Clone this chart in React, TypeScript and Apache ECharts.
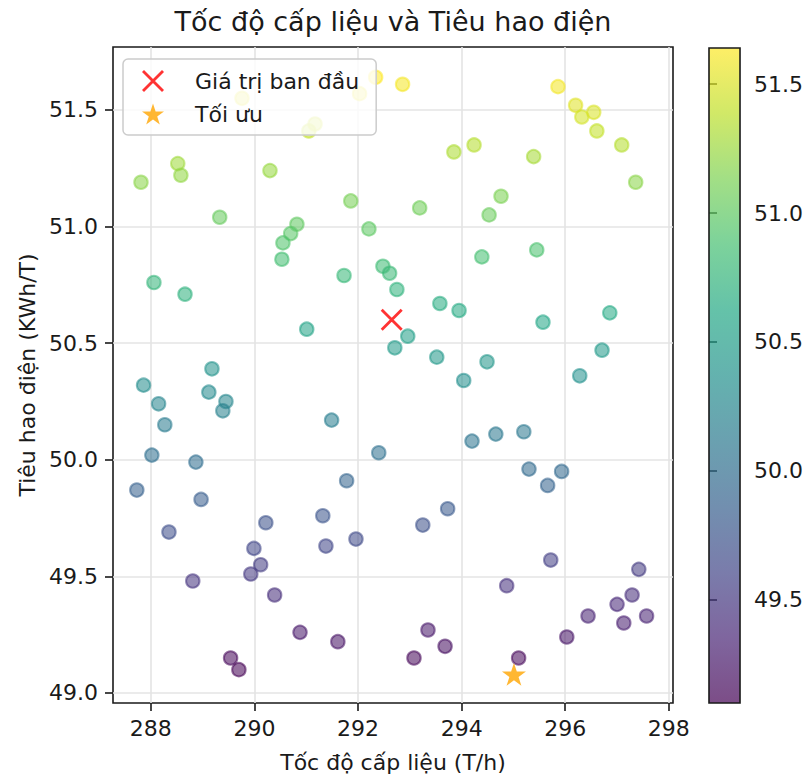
import React, { useEffect, useRef } from "react";
import * as echarts from "echarts";

// ---- data ----
const feedRate = [
  287.81, 288.52, 288.58, 290.3, 289.33, 290.82, 290.7, 290.55, 290.53, 291.86,
  292.21, 292.48, 292.61, 291.73, 288.06, 291.05, 291.17, 289.76, 292.03, 292.34,
  292.86, 295.86, 296.2, 296.32, 296.55, 296.61, 297.09, 297.36, 293.85, 294.24,
  295.39, 293.19, 294.76, 294.53, 294.39, 295.45, 288.66, 291.01, 292.75, 292.71,
  289.18, 287.86, 289.12, 289.45, 289.39, 288.15, 288.27, 291.49, 288.02, 288.87,
  292.4, 291.78, 287.73, 293.58, 293.95, 295.57, 296.86, 292.96, 293.52, 294.49,
  294.04, 296.71, 296.28, 294.2, 294.66, 295.2, 295.3, 295.93, 295.66, 288.97,
  288.35, 290.22, 291.32, 291.38, 291.96, 289.99, 290.12, 289.93, 288.81, 290.39,
  290.88, 291.61, 289.54, 289.7, 293.25, 293.73, 295.72, 294.87, 297.42, 297.29,
  297.0, 296.44, 297.13, 297.57, 296.03, 293.35, 293.68, 293.08, 295.1,
];
const energyUse = [
  51.19, 51.27, 51.22, 51.24, 51.04, 51.01, 50.97, 50.93, 50.86, 51.11,
  50.99, 50.83, 50.8, 50.79, 50.76, 51.41, 51.44, 51.55, 51.57, 51.64,
  51.61, 51.6, 51.52, 51.47, 51.49, 51.41, 51.35, 51.19, 51.32, 51.35,
  51.3, 51.08, 51.13, 51.05, 50.87, 50.9, 50.71, 50.56, 50.73, 50.48,
  50.39, 50.32, 50.29, 50.25, 50.21, 50.24, 50.15, 50.17, 50.02, 49.99,
  50.03, 49.91, 49.87, 50.67, 50.64, 50.59, 50.63, 50.53, 50.44, 50.42,
  50.34, 50.47, 50.36, 50.08, 50.11, 50.12, 49.96, 49.95, 49.89, 49.83,
  49.69, 49.73, 49.76, 49.63, 49.66, 49.62, 49.55, 49.51, 49.48, 49.42,
  49.26, 49.22, 49.15, 49.1, 49.72, 49.79, 49.57, 49.46, 49.53, 49.42,
  49.38, 49.33, 49.3, 49.33, 49.24, 49.27, 49.2, 49.15, 49.15,
];
const initialPoint = [292.65, 50.6];
const optimumPoint = [295.01, 49.08];

const xTicks = [288, 290, 292, 294, 296, 298];
const yTicks = [49.0, 49.5, 50.0, 50.5, 51.0, 51.5];
const colorbarTicks = [49.5, 50.0, 50.5, 51.0, 51.5];
const xLimits = [287.27, 298.08];
const yLimits = [48.957, 51.77];

const TITLE = "Tốc độ cấp liệu và Tiêu hao điện";
const X_NAME = "Tốc độ cấp liệu (T/h)";
const Y_NAME = "Tiêu hao điện (KWh/T)";
const LEGEND_INIT = "Giá trị ban đầu";
const LEGEND_OPT = "Tối ưu";

// ---- colormap ----
const VIRIDIS = [
  "#440154", "#482475", "#414487", "#355f8d", "#2a788e", "#21918c",
  "#22a884", "#44bf70", "#7ad151", "#bddf26", "#fde725",
];
const ALPHA = 0.7;

function hexToRgb(h: string) {
  return [parseInt(h.slice(1, 3), 16), parseInt(h.slice(3, 5), 16), parseInt(h.slice(5, 7), 16)];
}
function viridis(t: number, a: number) {
  const c = Math.max(0, Math.min(1, t)) * (VIRIDIS.length - 1);
  const i = Math.min(Math.floor(c), VIRIDIS.length - 2);
  const f = c - i;
  const p = hexToRgb(VIRIDIS[i]);
  const q = hexToRgb(VIRIDIS[i + 1]);
  const r = p.map((v, k) => Math.round(v + (q[k] - v) * f));
  return `rgba(${r[0]},${r[1]},${r[2]},${a})`;
}

const X_PATH = "path://M1,3 L3,1 L23,21 L21,23 Z M21,1 L23,3 L3,23 L1,21 Z";
const STAR_PATH =
  "path://M50,0 L61.23,34.55 L97.55,34.55 L68.16,55.9 L79.39,90.45 L50,69.1 L20.61,90.45 L31.84,55.9 L2.45,34.55 L38.77,34.55 Z";

const FONT = "DejaVu Sans";
const INK = "#1a1a1a";

export default function App() {
  const ref = useRef<HTMLDivElement>(null);

  useEffect(() => {
    if (!ref.current) return;
    const chart = echarts.init(ref.current, undefined, { renderer: "svg" });

    const cMin = Math.min(...energyUse);
    const cMax = Math.max(...energyUse);

    const points = feedRate.map((x, i) => {
      const t = (energyUse[i] - cMin) / (cMax - cMin);
      return {
        value: [x, energyUse[i]],
        itemStyle: {
          color: viridis(t, ALPHA),
          borderColor: viridis(t, ALPHA),
          borderWidth: 2,
        },
      };
    });

    const gradientStops = VIRIDIS.map((_, i) => ({
      offset: i / (VIRIDIS.length - 1),
      color: viridis(i / (VIRIDIS.length - 1), ALPHA),
    }));

    const axisTickStyle = { color: INK, width: 1.6 };
    const labelStyle = { fontFamily: FONT, fontSize: 22, color: INK };

    chart.setOption({
      animation: false,
      backgroundColor: "#ffffff",
      textStyle: { fontFamily: FONT },
      title: {
        text: TITLE,
        left: 393,
        top: 8,
        padding: 0,
        textAlign: "center",
        textStyle: { fontFamily: FONT, fontSize: 27, fontWeight: "normal", color: INK },
      },
      legend: {
        left: 123,
        top: 59,
        orient: "vertical",
        padding: [11, 17, 10, 19],
        itemGap: 11,
        itemWidth: 22,
        itemHeight: 22,
        selectedMode: false,
        backgroundColor: "rgba(255,255,255,0.8)",
        borderColor: "#cccccc",
        borderWidth: 1.5,
        borderRadius: 5,
        textStyle: { fontFamily: FONT, fontSize: 22, color: INK, padding: [0, 0, 0, 26], lineHeight: 22 },
        data: [
          { name: LEGEND_INIT, icon: X_PATH },
          { name: LEGEND_OPT, icon: STAR_PATH },
        ],
      },
      grid: [
        {
          left: 113,
          top: 47,
          width: 560,
          height: 656,
          show: true,
          borderColor: INK,
          borderWidth: 1.6,
          backgroundColor: "transparent",
        },
        {
          left: 709,
          top: 48,
          width: 33,
          height: 655,
        },
      ],
      xAxis: [
        {
          type: "value",
          gridIndex: 0,
          min: xLimits[0],
          max: xLimits[1],
          interval: 2,
          name: X_NAME,
          nameLocation: "middle",
          nameGap: 48,
          nameTextStyle: { fontFamily: FONT, fontSize: 22, color: INK },
          axisLine: { show: false },
          axisTick: { show: true, length: 8, lineStyle: axisTickStyle, customValues: xTicks },
          axisLabel: { ...labelStyle, margin: 14, customValues: xTicks, formatter: (v: number) => String(Math.round(v)) },
          splitLine: { show: true, lineStyle: { color: "#e4e4e4", width: 1.6 } },
        },
        {
          type: "value",
          gridIndex: 1,
          min: 0,
          max: 1,
          show: false,
        },
      ],
      yAxis: [
        {
          type: "value",
          gridIndex: 0,
          min: yLimits[0],
          max: yLimits[1],
          interval: 0.5,
          name: Y_NAME,
          nameLocation: "middle",
          nameRotate: 90,
          nameGap: 73,
          nameTextStyle: { fontFamily: FONT, fontSize: 22, color: INK },
          axisLine: { show: false },
          axisTick: { show: true, length: 8, lineStyle: axisTickStyle, customValues: yTicks },
          axisLabel: { ...labelStyle, margin: 15, customValues: yTicks, formatter: (v: number) => v.toFixed(1) },
          splitLine: { show: true, lineStyle: { color: "#e4e4e4", width: 1.6 } },
        },
        {
          type: "value",
          gridIndex: 1,
          min: cMin,
          max: cMax,
          position: "right",
          axisLine: { show: false },
          axisTick: { show: true, length: 8, lineStyle: axisTickStyle, customValues: colorbarTicks },
          axisLabel: { ...labelStyle, margin: 14, customValues: colorbarTicks, formatter: (v: number) => v.toFixed(1) },
          splitLine: { show: false },
        },
      ],
      series: [
        {
          type: "scatter",
          name: "data",
          xAxisIndex: 0,
          yAxisIndex: 0,
          symbol: "circle",
          symbolSize: 13.5,
          data: points,
          z: 2,
        },
        {
          type: "scatter",
          name: LEGEND_INIT,
          xAxisIndex: 0,
          yAxisIndex: 0,
          symbol: X_PATH,
          symbolSize: 22,
          itemStyle: { color: "#ff0000" },
          data: [initialPoint],
          z: 3,
        },
        {
          type: "scatter",
          name: LEGEND_OPT,
          xAxisIndex: 0,
          yAxisIndex: 0,
          symbol: STAR_PATH,
          symbolKeepAspect: true,
          symbolSize: 24,
          itemStyle: { color: "#ffa500" },
          data: [optimumPoint],
          z: 3,
        },
        {
          type: "custom",
          xAxisIndex: 1,
          yAxisIndex: 1,
          silent: true,
          data: [[0, cMin]],
          renderItem: (_params: any, api: any) => {
            const p0 = api.coord([0, cMax]);
            const p1 = api.coord([1, cMin]);
            return {
              type: "rect",
              shape: { x: p0[0], y: p0[1], width: p1[0] - p0[0], height: p1[1] - p0[1] },
              style: {
                fill: new echarts.graphic.LinearGradient(0, 1, 0, 0, gradientStops),
                stroke: INK,
                lineWidth: 1.6,
              },
            };
          },
        },
      ],
    });

    return () => chart.dispose();
  }, []);

  return (
    <div
      ref={ref}
      style={{ position: "fixed", left: 0, top: 0, width: 806, height: 778, background: "#fff" }}
    />
  );
}
